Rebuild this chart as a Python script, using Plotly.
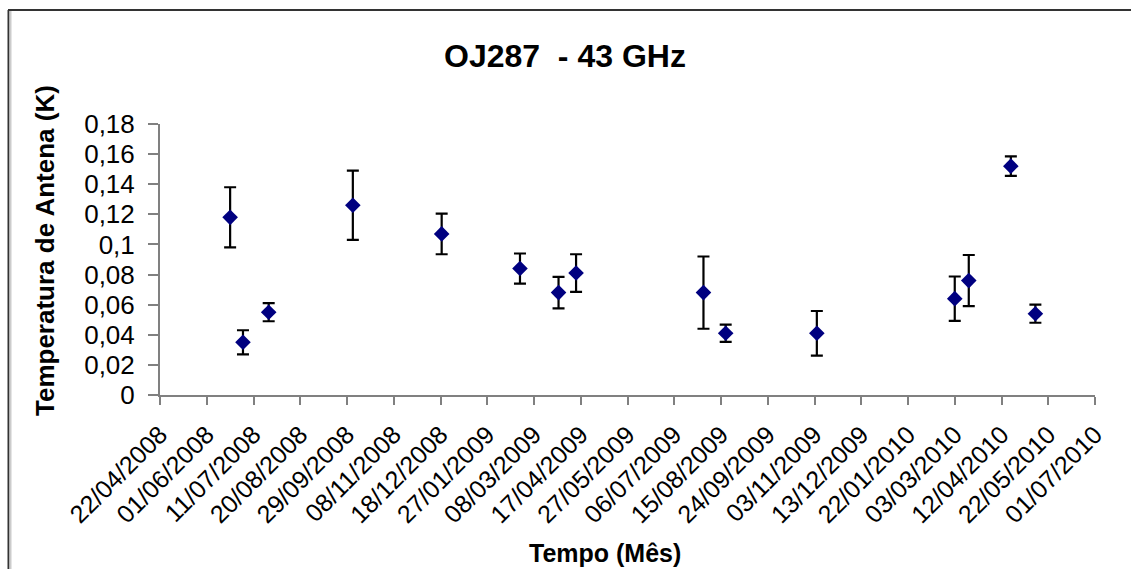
import plotly.graph_objects as go

# ---- data ----
dates = ["2008-06-21", "2008-07-02", "2008-07-24", "2008-10-04", "2008-12-19",
         "2009-02-24", "2009-03-29", "2009-04-13", "2009-07-31", "2009-08-19",
         "2009-11-05", "2010-03-03", "2010-03-15", "2010-04-20", "2010-05-11"]
temperature = [0.118, 0.035, 0.055, 0.126, 0.107,
               0.084, 0.068, 0.081, 0.068, 0.041,
               0.041, 0.064, 0.076, 0.152, 0.054]
error = [0.020, 0.008, 0.006, 0.023, 0.0135,
         0.010, 0.0105, 0.0125, 0.024, 0.0057,
         0.0148, 0.0147, 0.017, 0.0065, 0.006]

x_tick_dates = ["2008-04-22", "2008-06-01", "2008-07-11", "2008-08-20", "2008-09-29",
                "2008-11-08", "2008-12-18", "2009-01-27", "2009-03-08", "2009-04-17",
                "2009-05-27", "2009-07-06", "2009-08-15", "2009-09-24", "2009-11-03",
                "2009-12-13", "2010-01-22", "2010-03-03", "2010-04-12", "2010-05-22",
                "2010-07-01"]
x_tick_labels = ["22/04/2008", "01/06/2008", "11/07/2008", "20/08/2008", "29/09/2008",
                 "08/11/2008", "18/12/2008", "27/01/2009", "08/03/2009", "17/04/2009",
                 "27/05/2009", "06/07/2009", "15/08/2009", "24/09/2009", "03/11/2009",
                 "13/12/2009", "22/01/2010", "03/03/2010", "12/04/2010", "22/05/2010",
                 "01/07/2010"]
y_tick_values = [0, 0.02, 0.04, 0.06, 0.08, 0.10, 0.12, 0.14, 0.16, 0.18]
y_tick_labels = ["0", "0,02", "0,04", "0,06", "0,08", "0,1", "0,12", "0,14", "0,16", "0,18"]

title_text = "OJ287  - 43 GHz"
x_title = "Tempo (Mês)"
y_title = "Temperatura de Antena (K)"

FONT = "Liberation Sans, Arial, sans-serif"

fig = go.Figure()
fig.add_trace(go.Scatter(
    x=dates, y=temperature, mode="markers",
    marker=dict(symbol="diamond", size=12, color="#000080"),
    error_y=dict(type="data", array=error, visible=True,
                 color="#000000", thickness=2.2, width=6),
    showlegend=False,
))

W, H = 1131, 569
L, R, T, B = 160, 36, 124, 174
pw, ph = W - L - R, H - T - B

def px_x(p):
    return (p - L) / pw

def px_y(p):
    return (H - B - p) / ph

fig.update_layout(
    width=W, height=H,
    margin=dict(l=L, r=R, t=T, b=B, autoexpand=False),
    paper_bgcolor="white", plot_bgcolor="white",
    font=dict(family=FONT, color="black"),
    xaxis=dict(
        type="date", range=[x_tick_dates[0], x_tick_dates[-1]],
        tickmode="array", tickvals=x_tick_dates, ticktext=x_tick_labels,
        tickangle=-45, tickfont=dict(size=25, family=FONT, color="black"),
        ticklabelstandoff=5,
        showgrid=False, zeroline=False,
        showline=True, linecolor="#808080", linewidth=2,
        ticks="outside", ticklen=8, tickwidth=2, tickcolor="#808080",
        automargin=False,
    ),
    yaxis=dict(
        range=[0, 0.18], tickmode="array", tickvals=y_tick_values, ticktext=y_tick_labels,
        tickfont=dict(size=26, family=FONT, color="black"),
        ticklabelstandoff=8,
        showgrid=False, zeroline=False,
        showline=True, linecolor="#808080", linewidth=2,
        ticks="outside", ticklen=10, tickwidth=2, tickcolor="#808080",
        automargin=False,
    ),
    annotations=[
        dict(text="<b>" + title_text + "</b>", xref="paper", yref="paper",
             x=px_x(565), y=px_y(56), xanchor="center", yanchor="middle",
             showarrow=False, font=dict(size=32, family=FONT, color="black")),
        dict(text="<b>" + x_title + "</b>", xref="paper", yref="paper",
             x=px_x(605), y=px_y(553), xanchor="center", yanchor="middle",
             showarrow=False, font=dict(size=25, family=FONT, color="black")),
        dict(text="<b>" + y_title + "</b>", xref="paper", yref="paper",
             x=px_x(45), y=px_y(251), xanchor="center", yanchor="middle",
             textangle=-90,
             showarrow=False, font=dict(size=26, family=FONT, color="black")),
    ],
    shapes=[
        dict(type="line", xref="paper", yref="paper",
             x0=px_x(8.5), x1=px_x(8.5), y0=px_y(H + 20), y1=px_y(10),
             line=dict(color="#333333", width=2)),
        dict(type="line", xref="paper", yref="paper",
             x0=px_x(10.5), x1=px_x(10.5), y0=px_y(H + 20), y1=px_y(11),
             line=dict(color="#cccccc", width=2)),
        dict(type="line", xref="paper", yref="paper",
             x0=px_x(8), x1=px_x(W + 20), y0=px_y(10), y1=px_y(10),
             line=dict(color="#333333", width=2)),
    ],
)

fig.write_html(
    "out.html",
    config={"displayModeBar": False},
    post_script="document.body.style.margin='0';document.body.style.overflow='hidden';",
)
